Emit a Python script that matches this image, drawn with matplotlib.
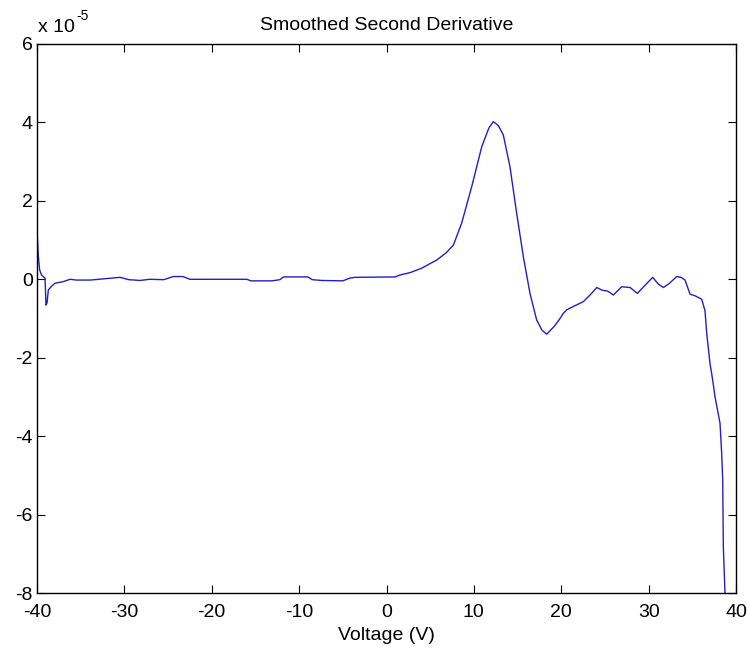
import matplotlib
matplotlib.use("Agg")
import matplotlib.pyplot as plt
from matplotlib.ticker import FuncFormatter

plt.rcParams['font.family'] = ['Liberation Sans', 'DejaVu Sans']
plt.rcParams['axes.unicode_minus'] = False

# values (y in units of 1e-5)
voltage = [-39.95, -39.85, -39.7, -39.46, -39.08, -38.97, -38.85, -38.7, -38.3, -37.94,
           -37.0, -36.2, -35.5, -33.9, -30.5, -29.5, -28.2, -27.1, -25.5, -24.4,
           -23.3, -22.5, -16.0, -15.5, -13.1, -12.2, -11.8, -9.0, -8.5, -7.4,
           -5.0, -4.2, -3.6, 1.0, 1.55, 2.7, 4.0, 5.74, 6.8, 7.65,
           8.6, 9.75, 10.9, 11.7, 12.22, 12.8, 13.37, 14.13, 14.9, 15.66,
           16.42, 17.19, 17.8, 18.33, 19.2, 19.86, 20.23, 20.62, 21.5, 22.53,
           23.3, 24.06, 24.7, 25.3, 25.96, 26.92, 27.88, 28.71, 29.6, 30.47,
           31.1, 31.69, 32.4, 33.21, 33.7, 34.17, 34.74, 35.3, 36.08, 36.45,
           36.65, 37.02, 37.33, 37.6, 38.17, 38.36, 38.48, 38.55, 38.74, 38.8]
d2 = [1.05, 0.6, 0.24, 0.1, 0.03, -0.66, -0.6, -0.27, -0.17, -0.1,
      -0.06, 0.0, -0.02, -0.02, 0.05, -0.01, -0.03, 0.0, -0.01, 0.07,
      0.07, 0.0, 0.0, -0.04, -0.04, -0.01, 0.06, 0.06, -0.01, -0.03,
      -0.04, 0.03, 0.05, 0.06, 0.11, 0.17, 0.28, 0.49, 0.67, 0.87,
      1.43, 2.36, 3.38, 3.85, 4.02, 3.92, 3.68, 2.87, 1.68, 0.58,
      -0.36, -1.04, -1.3, -1.40, -1.2, -1.0, -0.87, -0.78, -0.68, -0.57,
      -0.4, -0.21, -0.28, -0.3, -0.40, -0.19, -0.21, -0.36, -0.15, 0.05,
      -0.12, -0.21, -0.1, 0.07, 0.05, -0.02, -0.38, -0.42, -0.51, -0.8,
      -1.38, -2.14, -2.57, -3.0, -3.67, -4.44, -5.12, -6.82, -8.0, -8.5]
scale = 1e-5
xticks = [-40, -30, -20, -10, 0, 10, 20, 30, 40]
yticks = [-8, -6, -4, -2, 0, 2, 4, 6]

fig = plt.figure(figsize=(7.47, 6.54), dpi=100)
ax = fig.add_axes([37 / 747, 61 / 654, 699 / 747, 549 / 654])

ax.plot(voltage, [v * scale for v in d2], color='#2020c0', linewidth=1.0)

ax.set_xlim(-40, 40)
ax.set_ylim(-8 * scale, 6 * scale)
ax.set_xticks(xticks)
ax.set_yticks([t * scale for t in yticks])
ax.yaxis.set_major_formatter(FuncFormatter(lambda v, p: f"{v / scale:.0f}"))
ax.tick_params(direction='in', top=True, right=True, length=6, width=0.8,
               labelsize=14)
ax.tick_params(axis='x', pad=8)
ax.tick_params(axis='y', pad=3)
for s in ax.spines.values():
    s.set_linewidth(1.0)

ax.set_title('Smoothed Second Derivative', fontsize=14, pad=10)
ax.set_xlabel('Voltage (V)', fontsize=14, labelpad=4)

# MATLAB-style exponent label at the top left
fig.text(38 / 747, 1 - 32 / 654, 'x 10', fontsize=14, ha='left', va='baseline')
fig.text(76 / 747, 1 - 20 / 654, '-5', fontsize=10, ha='left', va='baseline')

fig.savefig('out.png', dpi=100)
